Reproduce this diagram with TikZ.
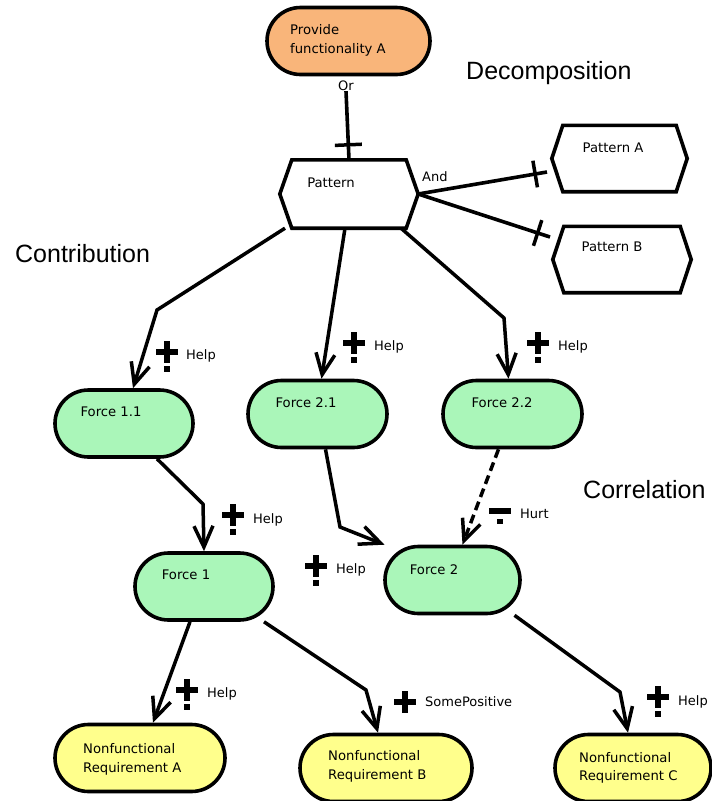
\documentclass[tikz,border=0pt]{standalone}
\usepackage{fontspec}
\setmainfont{Liberation Sans}
\newfontfamily\smallfont{DejaVu Sans}
\usetikzlibrary{shapes.misc,arrows.meta,decorations.markings}

\definecolor{goalfill}{RGB}{249,181,122}
\definecolor{forcefill}{RGB}{170,246,185}
\definecolor{nfrfill}{RGB}{255,255,140}

% outline of a hexagonal pattern box drawn around a named placeholder node
\newcommand{\hexoutline}[2]{%
  \filldraw[hexline] (#1.west) -- ([xshift=#2]#1.north west) -- ([xshift=-#2]#1.north east)
    -- (#1.east) -- ([xshift=-#2]#1.south east) -- ([xshift=#2]#1.south west) -- cycle;}

\begin{document}
\begin{tikzpicture}[x=1pt,y=-1pt,
  pill/.style={rounded rectangle, draw, line width=3.6pt, minimum width=#1,
               minimum height=67pt, inner sep=0pt},
  hexbox/.style={rectangle, inner sep=0pt, minimum width=#1, minimum height=66pt},
  hexline/.style={draw, fill=white, line width=3.6pt, line join=miter},
  txt/.style={font=\smallfont\fontsize{13.2}{18.5}\selectfont, inner sep=0pt, align=left},
  lbl/.style={font=\smallfont\fontsize{13}{16}\selectfont, inner sep=0pt, anchor=west},
  title/.style={font=\fontsize{25}{29}\selectfont, inner sep=0pt, anchor=west},
  arr/.style={line width=3.5pt, line join=miter,
              -{Straight Barb[length=21pt,width=19pt,line width=3.5pt]}},
  link/.style={line width=3.6pt},
  tickmark/.style={postaction=decorate, decoration={markings,
      mark=at position #1 with {\draw[line width=3.5pt] (0,-13.5pt) -- (0,13.5pt);}}},
  plusdot/.pic={\fill (-11,-2.8) rectangle (11,2.8); \fill (-2.8,-11) rectangle (2.8,11);
                \fill (-2.8,14) rectangle (2.8,19.5);},
  minusdot/.pic={\fill (-11,-2.8) rectangle (11,2.8); \fill (-2.8,7.5) rectangle (2.8,13);},
  plusonly/.pic={\fill (-11,-2.8) rectangle (11,2.8); \fill (-2.8,-11) rectangle (2.8,11);}
]
\useasboundingbox (0,0) rectangle (712,801);

% ---- goal ----
\node[pill=163pt, fill=goalfill] (goal) at (348.5,41) {};
\node[txt, anchor=west] (goalt) at (290,40.5) {Provide\\functionality A};

% ---- pattern and its parts ----
\node[hexbox=138pt, minimum height=68pt] (pat) at (349,194) {};
\hexoutline{pat}{12pt}
\node[txt] (patt) at (331,183) {Pattern};

\node[hexbox=135pt] (pa) at (619.5,158.5) {};
\hexoutline{pa}{11pt}
\node[txt] (pat-a) at (613,148) {Pattern A};

\node[hexbox=138pt] (pb) at (622,259.5) {};
\hexoutline{pb}{11pt}
\node[txt] (pat-b) at (612,247) {Pattern B};

% ---- forces ----
\node[pill=138pt, fill=forcefill] (f11) at (124,423.5) {};
\node[txt] (f11t) at (111,412) {Force 1.1};
\node[pill=139pt, fill=forcefill] (f21) at (317.5,414) {};
\node[txt] (f21t) at (306,403) {Force 2.1};
\node[pill=139pt, fill=forcefill] (f22) at (512.5,414) {};
\node[txt] (f22t) at (502,403) {Force 2.2};
\node[pill=138pt, fill=forcefill] (f1) at (204,586.5) {};
\node[txt] (f1t) at (186,575) {Force 1};
\node[pill=135pt, fill=forcefill] (f2) at (452.5,580) {};
\node[txt] (f2t) at (434,570) {Force 2};

% ---- nonfunctional requirements ----
\node[pill=170pt, fill=nfrfill] (nfra) at (140,758) {};
\node[txt, anchor=west] (nfrat) at (83,759.5) {Nonfunctional\\Requirement A};
\node[pill=172pt, fill=nfrfill] (nfrb) at (386,768) {};
\node[txt, anchor=west] (nfrbt) at (328,766.5) {Nonfunctional\\Requirement B};
\node[pill=156pt, fill=nfrfill] (nfrc) at (633,768) {};
\node[txt, anchor=west] (nfrct) at (579,768) {Nonfunctional\\Requirement C};

% ---- section titles ----
\node[title] (tdec) at (466,73) {Decomposition};
\node[title] (tcon) at (15,254) {Contribution};
\node[title] (tcor) at (583,490) {Correlation};

% ---- decomposition links ----
\node[lbl, anchor=center] (or) at (346,86) {Or};
\draw[link, tickmark=-15pt] (or.south) -- (pat.north);
\node[lbl] (and) at (422,177) {And};
\coordinate (paend) at (547,172);
\coordinate (pbend) at (550,237);
\draw[link, tickmark=-12pt] (pat.east) -- (paend);
\draw[link, tickmark=-13pt] (pat.east) -- (pbend);

% ---- contribution links ----
\coordinate (k1) at (157,310);
\draw[arr] ([xshift=-64pt]pat.south) -- (k1) -- ([xshift=9pt]f11.north);
\draw[arr] ([xshift=-4pt]pat.south) -- ([xshift=4pt]f21.north);
\coordinate (k2) at (504,318);
\draw[arr] ([xshift=52pt]pat.south) -- (k2) -- ([xshift=-4pt]f22.north);
\coordinate (k3) at (203,504);
\draw[arr] ([xshift=33pt]f11.south) -- (k3) -- (f1.north);
\coordinate (k4) at (340,527);
\draw[arr] ([xshift=8pt]f21.south) -- (k4) -- ([xshift=-68pt]f2.north);
\draw[arr, dash pattern=on 9pt off 5pt] ([xshift=-14pt]f22.south) -- ([xshift=10pt]f2.north);
\draw[arr] ([xshift=-14pt]f1.south) -- ([xshift=13pt]nfra.north);
\coordinate (k5) at (366,690);
\draw[arr] ([xshift=60pt]f1.south) -- (k5) -- ([xshift=-8pt]nfrb.north);
\coordinate (k6) at (620,692);
\draw[arr] ([xshift=62pt]f2.south) -- (k6) -- ([xshift=-5pt]nfrc.north);

% ---- contribution labels ----
\pic at (167,352) {plusdot};  \node[lbl] (h1) at (186,356) {Help};
\pic at (354,343) {plusdot};  \node[lbl] (h2) at (374,347) {Help};
\pic at (538,343) {plusdot};  \node[lbl] (h3) at (558,347) {Help};
\pic at (233,515) {plusdot};  \node[lbl] (h4) at (253,520) {Help};
\pic at (500,511) {minusdot}; \node[lbl] (h5) at (520,514) {Hurt};
\pic at (316,566) {plusdot};  \node[lbl] (h6) at (336,570) {Help};
\pic at (187,690) {plusdot};  \node[lbl] (h7) at (207,694) {Help};
\pic at (405,702) {plusonly}; \node[lbl] (h8) at (425,702) {SomePositive};
\pic at (658,697) {plusdot};  \node[lbl] (h9) at (678,702) {Help};
\end{tikzpicture}
\end{document}
